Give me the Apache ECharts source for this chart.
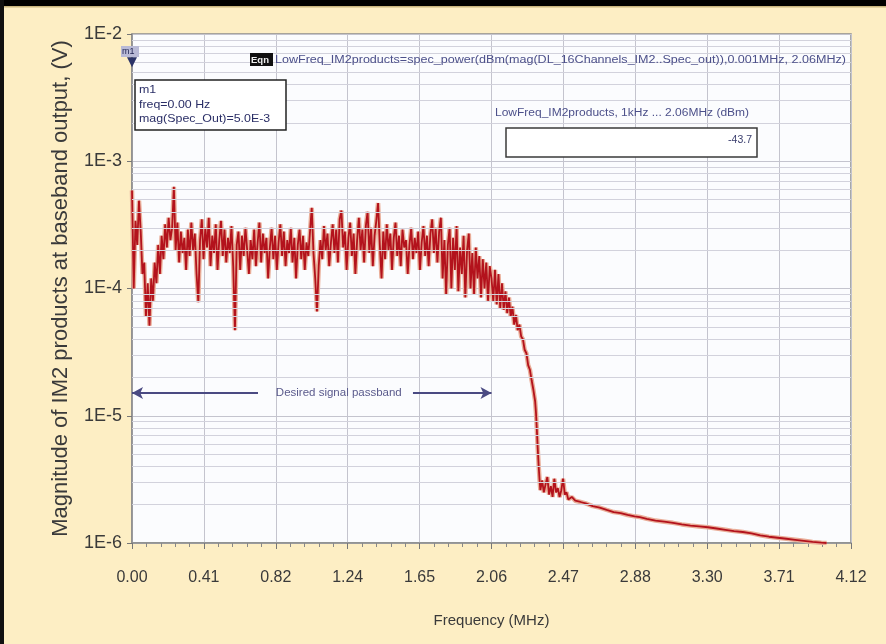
<!DOCTYPE html>
<html>
<head>
<meta charset="utf-8">
<script src="https://cdn.jsdelivr.net/npm/echarts@6/dist/echarts.min.js"></script>
<style>
html,body{margin:0;padding:0;background:#fdeec4;}
#chart{width:886px;height:644px;}
</style>
</head>
<body>
<div id="chart"></div>
<script>
// ---- tick labels ----
const xTickLabels = ['0.00','0.41','0.82','1.24','1.65','2.06','2.47','2.88','3.30','3.71','4.12'];
const yTickLabels = ['1E-6','1E-5','1E-4','1E-3','1E-2'];
const minorGridValues = [2e-6,3e-6,4e-6,5e-6,6e-6,7e-6,8e-6,9e-6,
  2e-5,3e-5,4e-5,5e-5,6e-5,7e-5,8e-5,9e-5,
  2e-4,3e-4,4e-4,5e-4,6e-4,7e-4,8e-4,9e-4,
  2e-3,3e-3,4e-3,5e-3,6e-3,7e-3,8e-3,9e-3];

// ---- passband (MHz, V) ----
const passFreq = [0.00,0.01,0.02,0.03,0.04,0.05,0.06,0.07,0.08,0.09,
0.10,0.11,0.12,0.13,0.14,0.15,0.16,0.17,0.18,0.19,
0.20,0.21,0.22,0.23,0.24,0.25,0.26,0.27,0.28,0.29,
0.30,0.31,0.32,0.33,0.34,0.35,0.36,0.37,0.38,0.39,
0.40,0.41,0.42,0.43,0.44,0.45,0.46,0.47,0.48,0.49,
0.50,0.51,0.52,0.53,0.54,0.55,0.56,0.57,0.58,0.59,
0.60,0.61,0.62,0.63,0.64,0.65,0.66,0.67,0.68,0.69,
0.70,0.71,0.72,0.73,0.74,0.75,0.76,0.77,0.78,0.79,
0.80,0.81,0.82,0.83,0.84,0.85,0.86,0.87,0.88,0.89,
0.90,0.91,0.92,0.93,0.94,0.95,0.96,0.97,0.98,0.99,
1.00,1.01,1.02,1.03,1.04,1.05,1.06,1.07,1.08,1.09,
1.10,1.11,1.12,1.13,1.14,1.15,1.16,1.17,1.18,1.19,
1.20,1.21,1.22,1.23,1.24,1.25,1.26,1.27,1.28,1.29,
1.30,1.31,1.32,1.33,1.34,1.35,1.36,1.37,1.38,1.39,
1.40,1.41,1.42,1.43,1.44,1.45,1.46,1.47,1.48,1.49,
1.50,1.51,1.52,1.53,1.54,1.55,1.56,1.57,1.58,1.59,
1.60,1.61,1.62,1.63,1.64,1.65,1.66,1.67,1.68,1.69,
1.70,1.71,1.72,1.73,1.74,1.75,1.76,1.77,1.78,1.79,
1.80,1.81,1.82,1.83,1.84,1.85,1.86,1.87,1.88,1.89,
1.90,1.91,1.92,1.93,1.94,1.95,1.96,1.97,1.98,1.99,
2.00,2.01,2.02,2.03,2.04,2.05];
const passMag = [5.9e-4,1.0e-4,3.4e-4,2.2e-4,4.9e-4,2.8e-4,1.3e-4,1.6e-4,0.6e-4,1.1e-4,
0.51e-4,1.2e-4,0.8e-4,1.6e-4,1.1e-4,2.2e-4,1.3e-4,2.6e-4,1.7e-4,3.2e-4,
2.1e-4,3.6e-4,2.4e-4,3.0e-4,6.3e-4,2.0e-4,3.3e-4,1.6e-4,2.8e-4,1.9e-4,
2.5e-4,1.4e-4,2.9e-4,1.8e-4,3.3e-4,2.0e-4,2.7e-4,1.3e-4,0.78e-4,2.4e-4,
3.5e-4,1.7e-4,3.0e-4,2.1e-4,3.6e-4,1.5e-4,2.6e-4,1.9e-4,3.2e-4,1.4e-4,
2.4e-4,3.4e-4,1.8e-4,2.9e-4,1.6e-4,2.5e-4,1.9e-4,3.1e-4,1.5e-4,0.47e-4,
2.2e-4,2.8e-4,1.4e-4,2.6e-4,1.8e-4,3.0e-4,2.0e-4,1.3e-4,2.4e-4,1.7e-4,
2.9e-4,1.5e-4,2.3e-4,3.3e-4,1.6e-4,2.7e-4,1.9e-4,2.5e-4,1.2e-4,2.1e-4,
3.0e-4,1.7e-4,2.6e-4,1.4e-4,2.3e-4,3.2e-4,1.8e-4,2.8e-4,1.5e-4,2.4e-4,
1.9e-4,3.0e-4,1.6e-4,2.5e-4,1.2e-4,2.2e-4,2.9e-4,1.7e-4,2.6e-4,1.4e-4,
2.3e-4,1.8e-4,2.8e-4,4.3e-4,1.9e-4,1.2e-4,0.66e-4,1.5e-4,2.4e-4,1.7e-4,
3.1e-4,2.0e-4,2.7e-4,1.5e-4,2.3e-4,3.2e-4,1.9e-4,2.9e-4,1.6e-4,3.5e-4,
4.1e-4,2.1e-4,2.8e-4,1.4e-4,2.5e-4,3.3e-4,1.8e-4,2.7e-4,1.3e-4,2.4e-4,
3.6e-4,2.0e-4,2.9e-4,1.6e-4,3.1e-4,4.0e-4,1.9e-4,3.0e-4,1.5e-4,2.6e-4,
3.4e-4,4.7e-4,2.2e-4,1.2e-4,2.8e-4,1.7e-4,3.2e-4,2.0e-4,2.7e-4,1.4e-4,
2.5e-4,3.3e-4,1.8e-4,2.6e-4,1.5e-4,2.9e-4,2.1e-4,2.4e-4,1.3e-4,2.2e-4,
3.0e-4,1.7e-4,2.5e-4,1.9e-4,2.8e-4,1.4e-4,2.3e-4,3.1e-4,1.8e-4,2.6e-4,
1.5e-4,2.7e-4,3.5e-4,1.9e-4,3.0e-4,1.6e-4,2.8e-4,3.6e-4,1.2e-4,2.4e-4,
0.9e-4,2.2e-4,3.0e-4,1.0e-4,2.5e-4,1.4e-4,3.1e-4,0.95e-4,2.1e-4,1.3e-4,
2.6e-4,0.85e-4,2.0e-4,2.7e-4,1.0e-4,1.9e-4,0.9e-4,2.1e-4,1.2e-4,1.8e-4,
0.85e-4,1.7e-4,1.0e-4,1.6e-4,0.8e-4,1.5e-4];

// ---- roll-off and stop band (MHz, V) ----
const stopFreq = [2.06,2.07,2.08,2.09,2.10,2.11,2.12,2.13,2.14,2.15,
2.16,2.17,2.18,2.19,2.20,2.21,2.22,2.23,2.24,2.25,
2.26,2.27,2.28,2.29,2.30,2.31,2.315,2.32,2.325,2.33,
2.335,2.34,2.35,2.36,2.37,2.38,2.39,2.40,2.41,2.42,
2.43,2.44,2.45,2.46,2.47,2.48,2.49,2.50,2.52,2.54,
2.57,2.60,2.64,2.68,2.72,2.76,2.80,2.84,2.88,2.91,
2.95,3.00,3.05,3.10,3.15,3.20,3.25,3.30,3.35,3.40,
3.45,3.50,3.55,3.60,3.65,3.70,3.75,3.80,3.85,3.90,
3.95,3.98];
const stopMag = [1.2e-4,0.8e-4,1.4e-4,0.75e-4,1.3e-4,0.7e-4,1.1e-4,0.68e-4,0.95e-4,0.64e-4,
0.85e-4,0.6e-4,0.72e-4,0.52e-4,0.62e-4,0.47e-4,0.52e-4,0.42e-4,0.40e-4,0.33e-4,
0.31e-4,0.25e-4,0.23e-4,0.19e-4,0.16e-4,1.3e-5,1.05e-5,7.7e-6,5.5e-6,4.1e-6,
3.2e-6,2.6e-6,3.1e-6,2.5e-6,2.9e-6,3.3e-6,2.4e-6,2.8e-6,2.3e-6,3.2e-6,
2.5e-6,2.7e-6,2.3e-6,2.6e-6,3.2e-6,2.4e-6,2.5e-6,2.2e-6,2.3e-6,2.15e-6,
2.1e-6,2.05e-6,1.95e-6,1.9e-6,1.82e-6,1.75e-6,1.72e-6,1.66e-6,1.62e-6,1.6e-6,
1.55e-6,1.5e-6,1.47e-6,1.44e-6,1.40e-6,1.37e-6,1.35e-6,1.33e-6,1.30e-6,1.27e-6,
1.24e-6,1.22e-6,1.19e-6,1.15e-6,1.12e-6,1.10e-6,1.08e-6,1.06e-6,1.04e-6,1.02e-6,
1.005e-6,1.0e-6];

// ---- annotations ----
const markerFreq = 0.0;
const markerMag = 5.0e-3;
const passbandStart = 0.0;
const passbandEnd = 2.06;
const passbandLevel = 1.51e-5;
const xMin = 0, xMax = 4.12;

const trace = [];
passFreq.forEach((f, i) => trace.push([f, passMag[i]]));
stopFreq.forEach((f, i) => trace.push([f, stopMag[i]]));

const chart = echarts.init(document.getElementById('chart'), null, {renderer: 'canvas'});
const navy = '#4a4a82';
const option = {
  backgroundColor: '#fdeec4',
  animation: false,
  grid: {left: 132, right: 35, top: 34, bottom: 101, show: true,
    backgroundColor: '#fbfcfe', borderColor: '#8c8c8c', borderWidth: 1.5},
  xAxis: {
    type: 'value', min: xMin, max: xMax, interval: 0.412,
    name: 'Frequency (MHz)', nameLocation: 'middle', nameGap: 70,
    nameTextStyle: {fontFamily: 'Liberation Sans', fontSize: 15, color: '#3a3a3a'},
    axisLine: {show: true, lineStyle: {color: '#8c8c8c', width: 1.5}},
    axisTick: {show: true, inside: false, length: 6, lineStyle: {color: '#777'}},
    minorTick: {show: true, splitNumber: 5, length: 4, lineStyle: {color: '#888'}},
    axisLabel: {margin: 27, fontFamily: 'Liberation Sans', fontSize: 16, color: '#3a3a3a',
      formatter: v => xTickLabels[Math.round(v / 0.412)]},
    splitLine: {show: true, lineStyle: {color: '#c4c4ce', width: 1}}
  },
  yAxis: {
    type: 'log', logBase: 10, min: 1e-6, max: 1e-2,
    name: 'Magnitude of IM2 products at baseband output, (V)', nameLocation: 'middle', nameGap: 60,
    nameTextStyle: {fontFamily: 'Liberation Sans', fontSize: 22, color: '#3a3a3a'},
    axisLine: {show: true, lineStyle: {color: '#8c8c8c', width: 1.5}},
    axisTick: {show: true, length: 5, lineStyle: {color: '#777'}},
    axisLabel: {margin: 10, fontFamily: 'Liberation Sans', fontSize: 18, color: '#3a3a3a',
      formatter: v => yTickLabels[Math.round(Math.log10(v)) + 6]},
    splitLine: {show: true, lineStyle: {color: '#c4c4ce', width: 1}}
  },
  series: [
    {
      name: 'minorGrid', type: 'line', data: [[0, 1e-4]], z: 1, silent: true,
      showSymbol: false, symbol: 'none', lineStyle: {opacity: 0},
      markLine: {silent: true, symbol: ['none', 'none'], animation: false,
        label: {show: false},
        lineStyle: {color: '#d2d2dc', width: 1, type: 'solid'},
        data: minorGridValues.map(v => [{coord: [xMin, v]}, {coord: [xMax, v]}])}
    },
    {
      name: 'halo', type: 'line', data: trace, showSymbol: false, z: 2, silent: true,
      lineStyle: {color: '#e9ad98', width: 4.5}
    },
    {
      name: 'IM2', type: 'line', data: trace, showSymbol: false, z: 3,
      lineStyle: {color: '#b3121c', width: 1.8},
      markPoint: {
        silent: true,
        data: [{coord: [markerFreq, markerMag], symbol: 'triangle', symbolRotate: 180,
          symbolSize: [10, 10], symbolOffset: [0, -10], itemStyle: {color: '#2c3468'}, label: {show: false}}]
      }
    },
    {
      name: 'passband', type: 'line', data: [[0, 1e-4]], z: 4, silent: true,
      showSymbol: false, symbol: 'none', lineStyle: {opacity: 0},
      markLine: {
        silent: true, animation: false, symbolSize: [9, 11],
        lineStyle: {color: navy, width: 2, type: 'solid'},
        label: {show: false},
        data: [
          [{coord: [passbandStart, passbandLevel], symbol: 'arrow'}, {coord: [0.722, passbandLevel], symbol: 'none'}],
          [{coord: [1.61, passbandLevel], symbol: 'none'}, {coord: [passbandEnd, passbandLevel], symbol: 'arrow'}]
        ]
      },
      markPoint: {
        silent: true,
        data: [{coord: [1.185, passbandLevel], symbol: 'rect', symbolSize: 1, itemStyle: {color: 'rgba(0,0,0,0)'},
          label: {show: true, position: 'inside', formatter: 'Desired signal passband',
            fontFamily: 'Liberation Sans', fontSize: 11.5, color: '#5a5a8c'}}]
      }
    }
  ],
  graphic: [
    {type: 'rect', shape: {x: 0, y: 0, width: 886, height: 6}, style: {fill: '#000'}, z: 100},
    {type: 'rect', shape: {x: 0, y: 6, width: 886, height: 1.5}, style: {fill: '#c9b57e'}, z: 100},
    {type: 'rect', shape: {x: 0, y: 0, width: 4, height: 644}, style: {fill: '#111'}, z: 100},
    // m1 tag
    {type: 'rect', shape: {x: 121, y: 46, width: 18, height: 11}, style: {fill: '#b9bad6'}, z: 50},
    {type: 'text', x: 122, y: 47, z: 51, style: {text: 'm1', fontFamily: 'Liberation Sans', fontSize: 9, fill: '#1e2250'}},
    // marker readout box
    {type: 'rect', shape: {x: 135, y: 80, width: 151, height: 50},
      style: {fill: '#ffffff', stroke: '#222', lineWidth: 1.5}, z: 50},
    {type: 'text', x: 139, y: 83, scaleX: 1.18, z: 51,
      style: {text: 'm1\nfreq=0.00 Hz\nmag(Spec_Out)=5.0E-3', fontFamily: 'Liberation Sans', fontSize: 10.5,
        lineHeight: 14.5, fill: '#2a2e66'}},
    // equation
    {type: 'rect', shape: {x: 250, y: 53, width: 23, height: 13}, style: {fill: '#111'}, z: 50},
    {type: 'text', x: 251, y: 55, z: 51, style: {text: 'Eqn', fontFamily: 'Liberation Sans', fontSize: 9.5, fontWeight: 'bold', fill: '#eee'}},
    {type: 'text', x: 275, y: 55, scaleX: 1.255, z: 51,
      style: {text: 'LowFreq_IM2products=spec_power(dBm(mag(DL_16Channels_IM2..Spec_out)),0.001MHz, 2.06MHz)',
        fontFamily: 'Liberation Sans', fontSize: 10, fill: '#4c508a'}},
    // dBm readout
    {type: 'text', x: 495, y: 108, scaleX: 1.2, z: 51,
      style: {text: 'LowFreq_IM2products, 1kHz ... 2.06MHz (dBm)', fontFamily: 'Liberation Sans', fontSize: 10, fill: '#4c508a'}},
    {type: 'rect', shape: {x: 506, y: 128, width: 251, height: 29},
      style: {fill: '#ffffff', stroke: '#3a3a3a', lineWidth: 1.5}, z: 50},
    {type: 'text', x: 752, y: 135, z: 51,
      style: {text: '-43.7', fontFamily: 'Liberation Sans', fontSize: 10.5, fill: '#3a3e6e', textAlign: 'right'}}
  ]
};
chart.setOption(option);
</script>
</body>
</html>
